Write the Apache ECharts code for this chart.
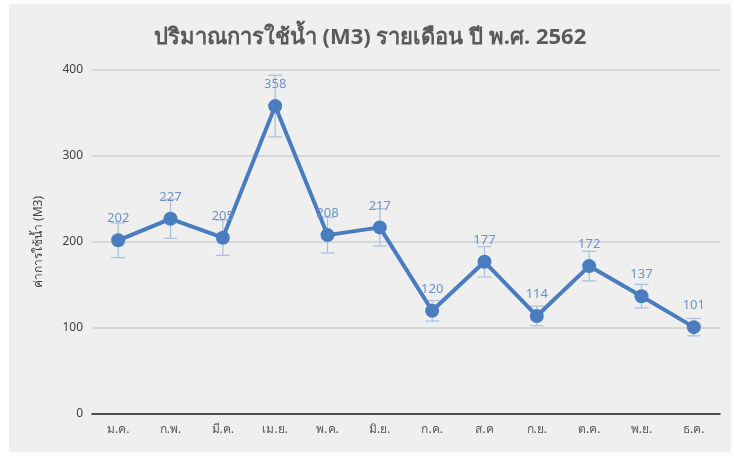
<!DOCTYPE html>
<html>
<head>
<meta charset="utf-8">
<script src="https://cdn.jsdelivr.net/npm/echarts@6/dist/echarts.min.js"></script>
<style>
  html, body { margin: 0; padding: 0; background: #ffffff; }
  #chart { position: absolute; left: 9px; top: 4px; width: 722px; height: 448px; background: #efefef; }
</style>
</head>
<body>
<div id="chart"></div>
<script>
const months = ['ม.ค.', 'ก.พ.', 'มี.ค.', 'เม.ย.', 'พ.ค.', 'มิ.ย.', 'ก.ค.', 'ส.ค', 'ก.ย.', 'ต.ค.', 'พ.ย.', 'ธ.ค.'];
const usage = [202, 227, 205, 358, 208, 217, 120, 177, 114, 172, 137, 101];
const errorPct = 0.1; // error bars: percentage of value
const yTicks = [0, 100, 200, 300, 400];

const font = '"Noto Sans", "DejaVu Sans", sans-serif';
const chart = echarts.init(document.getElementById('chart'));

// error bar rows: [index, low, high]
const errData = usage.map((v, i) => [i, v * (1 - errorPct), v * (1 + errorPct)]);

chart.setOption({
    backgroundColor: 'transparent',
    animation: false,
    title: {
        text: 'ปริมาณการใช้น้ำ (M3) รายเดือน ปี พ.ศ. 2562',
        left: 'center',
        top: 18,
        textStyle: { fontFamily: font, fontSize: 22, fontWeight: 'bold', color: '#5a5a5a' }
    },
    grid: { left: 83, right: 11, top: 66, bottom: 38 },
    xAxis: {
        type: 'category',
        data: months,
        axisLine: { lineStyle: { color: '#222', width: 1.5 } },
        axisTick: { show: false },
        axisLabel: { fontFamily: font, fontSize: 12, color: '#595959', margin: 10 }
    },
    yAxis: {
        type: 'value',
        min: yTicks[0],
        max: yTicks[yTicks.length - 1],
        interval: 100,
        name: 'ค่าการใช้น้ำ (M3)',
        nameLocation: 'middle',
        nameGap: 47,
        nameRotate: 90,
        nameTextStyle: { fontFamily: font, fontSize: 12, color: '#404040' },
        axisLine: { show: false },
        axisTick: { show: false },
        axisLabel: { fontFamily: font, fontSize: 12, color: '#404040', margin: 9 },
        splitLine: { lineStyle: { color: '#cfcfcf', width: 1.5 } }
    },
    series: [
        {
            type: 'custom',
            data: errData,
            z: 1,
            renderItem: function (params, api) {
                const lo = api.coord([api.value(0), api.value(1)]);
                const hi = api.coord([api.value(0), api.value(2)]);
                const w = 7;
                const style = { stroke: '#a9bfdd', lineWidth: 1.2 };
                return {
                    type: 'group',
                    children: [
                        { type: 'line', shape: { x1: lo[0], y1: lo[1], x2: hi[0], y2: hi[1] }, style: style },
                        { type: 'line', shape: { x1: lo[0] - w, y1: lo[1], x2: lo[0] + w, y2: lo[1] }, style: style },
                        { type: 'line', shape: { x1: hi[0] - w, y1: hi[1], x2: hi[0] + w, y2: hi[1] }, style: style }
                    ]
                };
            }
        },
        {
            type: 'line',
            data: usage,
            z: 3,
            symbol: 'circle',
            symbolSize: 14,
            lineStyle: { color: '#4a7cc0', width: 4 },
            itemStyle: { color: '#4a7cc0' },
            label: {
                show: true,
                position: 'top',
                distance: 8,
                fontFamily: font,
                fontSize: 13,
                color: '#6b93c9'
            }
        }
    ]
});
</script>
</body>
</html>
